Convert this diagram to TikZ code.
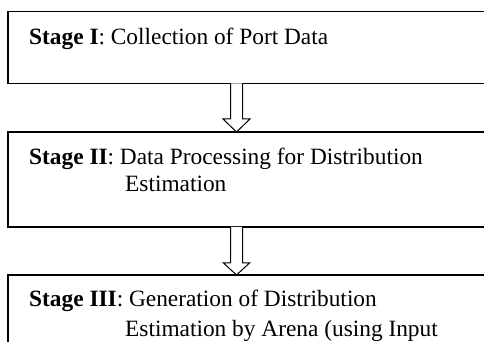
\documentclass[tikz,border=0pt]{standalone}
\usepackage{fontspec}
\setmainfont{Liberation Serif}
\usetikzlibrary{calc}
\begin{document}
\begin{tikzpicture}[x=1pt,y=1pt,
  stagebox/.style={draw=black, line width=1.1pt, rectangle, inner sep=0pt,
    outer sep=0pt, anchor=north west, minimum width=500pt},
  stagetext/.style={anchor=base west, inner sep=0pt,
    font=\fontsize{23.35}{27}\selectfont},
  hollowarrow/.style={draw=black, line width=1pt, fill=white, line join=miter}]
\useasboundingbox (0,0) rectangle (484,342);

% stage boxes (running off the right and bottom edges)
\node[stagebox, minimum height=72pt] (b1) at (8,330.5) {};
\node[stagebox, minimum height=95pt] (b2) at (8,210) {};
\node[stagebox, minimum height=100pt] (b3) at (8,67) {};

% stage descriptions
\node[stagetext] (t1) at (29,297) {\textbf{Stage I}: Collection of Port Data};
\node[stagetext] (t2a) at (29,177) {\textbf{Stage II}: Data Processing for Distribution};
\node[stagetext] (t2b) at (125,150) {Estimation};
\node[stagetext] (t3a) at (29,35) {\textbf{Stage III}: Generation of Distribution};
\node[stagetext] (t3b) at (125,5) {Estimation by Arena (using Input};

% hollow block arrows between stages
\draw[hollowarrow] let \p1=($(b1.south west)+(228.5pt,0)$),
  \p2=($(b2.north west)+(228.5pt,0)$) in
  (\x1-6pt,\y1) -- (\x1-6pt,\y2+13pt) -- (\x1-13.5pt,\y2+13pt) -- (\x2,\y2)
  -- (\x1+13.5pt,\y2+13pt) -- (\x1+6pt,\y2+13pt) -- (\x1+6pt,\y1);
\draw[hollowarrow] let \p1=($(b2.south west)+(228.5pt,0)$),
  \p2=($(b3.north west)+(228.5pt,0)$) in
  (\x1-6pt,\y1) -- (\x1-6pt,\y2+12pt) -- (\x1-13pt,\y2+12pt) -- (\x2,\y2)
  -- (\x1+13pt,\y2+12pt) -- (\x1+6pt,\y2+12pt) -- (\x1+6pt,\y1);
\end{tikzpicture}
\end{document}
